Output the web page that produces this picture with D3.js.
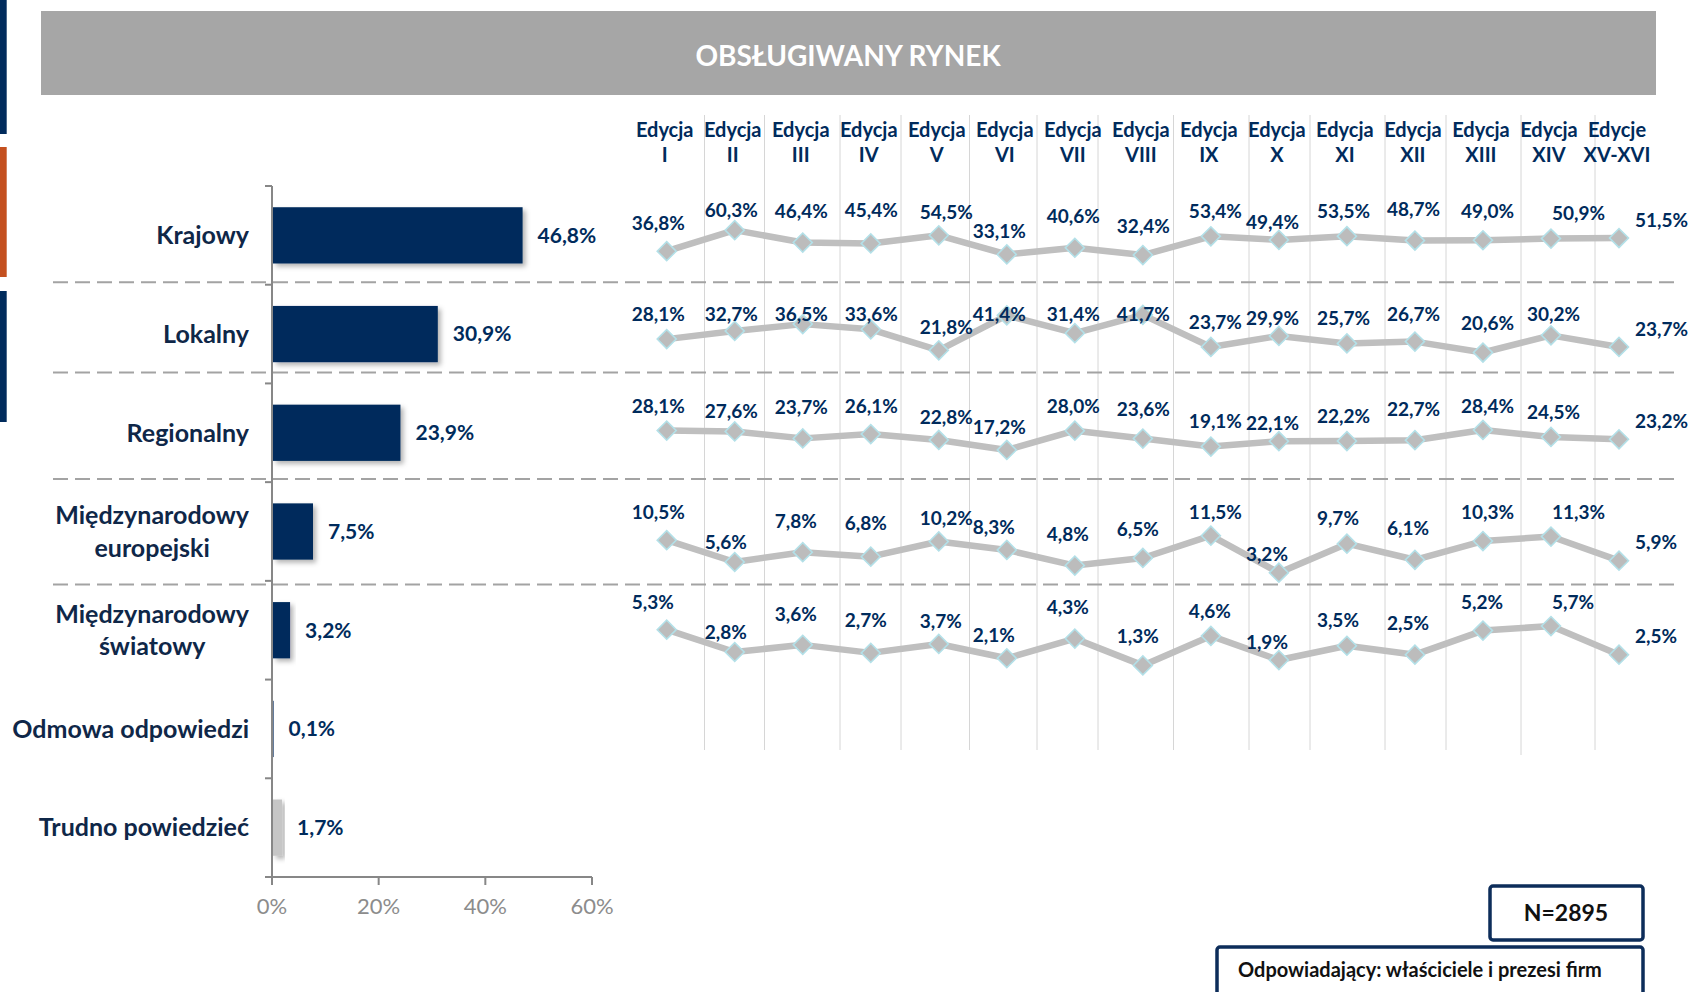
<!DOCTYPE html>
<html><head><meta charset="utf-8">
<script src="https://cdn.jsdelivr.net/npm/d3@7"></script>
<style>
html,body{margin:0;padding:0;background:#fff;}
svg{display:block;font-family:Lato,"Open Sans",sans-serif;}
</style>
</head><body>
<svg id="c" width="1702" height="992"></svg>
<script>
// ---------- DATA ----------
const title = "OBSŁUGIWANY RYNEK";
const categories = ["Krajowy","Lokalny","Regionalny","Międzynarodowy europejski","Międzynarodowy światowy","Odmowa odpowiedzi","Trudno powiedzieć"];
const categoryLines = [["Krajowy"],["Lokalny"],["Regionalny"],["Międzynarodowy","europejski"],["Międzynarodowy","światowy"],["Odmowa odpowiedzi"],["Trudno powiedzieć"]];
const currentValues = [46.8, 30.9, 23.9, 7.5, 3.2, 0.1, 1.7];
const xTickValues = [0, 20, 40, 60];

const editions = ["I","II","III","IV","V","VI","VII","VIII","IX","X","XI","XII","XIII","XIV","XV-XVI"];
const editionWord = ["Edycja","Edycja","Edycja","Edycja","Edycja","Edycja","Edycja","Edycja","Edycja","Edycja","Edycja","Edycja","Edycja","Edycja","Edycje"];

const seriesKrajowy     = [36.8, 60.3, 46.4, 45.4, 54.5, 33.1, 40.6, 32.4, 53.4, 49.4, 53.5, 48.7, 49.0, 50.9, 51.5];
const seriesLokalny     = [28.1, 32.7, 36.5, 33.6, 21.8, 41.4, 31.4, 41.7, 23.7, 29.9, 25.7, 26.7, 20.6, 30.2, 23.7];
const seriesRegionalny  = [28.1, 27.6, 23.7, 26.1, 22.8, 17.2, 28.0, 23.6, 19.1, 22.1, 22.2, 22.7, 28.4, 24.5, 23.2];
const seriesEuropejski  = [10.5, 5.6, 7.8, 6.8, 10.2, 8.3, 4.8, 6.5, 11.5, 3.2, 9.7, 6.1, 10.3, 11.3, 5.9];
const seriesSwiatowy    = [5.3, 2.8, 3.6, 2.7, 3.7, 2.1, 4.3, 1.3, 4.6, 1.9, 3.5, 2.5, 5.2, 5.7, 2.5];
const lineSeries = [seriesKrajowy, seriesLokalny, seriesRegionalny, seriesEuropejski, seriesSwiatowy];
const rowAxisMax = [70, 35, 35, 14, 7];

const sampleNote = "N=2895";
const respondentNote = "Odpowiadający: właściciele i prezesi firm";

// ---------- LAYOUT ----------
const NAVY = "#002b5c", TEXT = "#0f2748", GRAY_AX = "#878787";
const L = {
  barX0: 272, barX1: 592, barY0: 186, barY1: 877, labelRight: 249,
  lineX0: 666.7, lineX1: 1619,
  rowBase: [284, 389.3, 480.7, 587, 677], rowH: 62.5, labelClamp: 74.5,
  labelDx: [-35,-30,-28,-26,-19,-34,-28,-26,-22,-33,-30,-28,-22,-24,16],
  labelDxXIV: [1,-24,-24,1,1],
  labelDy: [-28,-20,-31,-33,-23,-23,-31,-29,-25,-18,-25,-31,-29,-25,-18],
  gridX: [704.5,764.5,840,901,969.5,1037,1098,1173.5,1249,1310,1385,1446,1521,1595],
  sepY: [282.3, 372.5, 479, 584.5]
};

const svg = d3.select("#c");
const defs = svg.append("defs");
const f = defs.append("filter").attr("id","sh").attr("x","-20%").attr("y","-20%").attr("width","150%").attr("height","160%");
f.append("feDropShadow").attr("dx",3).attr("dy",3).attr("stdDeviation",2.5).attr("flood-color","#000").attr("flood-opacity",0.3);

// left strips
svg.append("rect").attr("x",0).attr("y",0).attr("width",6.7).attr("height",134).attr("fill",NAVY);
svg.append("rect").attr("x",0).attr("y",147).attr("width",6.7).attr("height",130).attr("fill","#c4501f");
svg.append("rect").attr("x",0).attr("y",291).attr("width",6.7).attr("height",131).attr("fill",NAVY);

// banner
svg.append("rect").attr("x",41).attr("y",11).attr("width",1615).attr("height",84).attr("fill","#a6a6a6");
svg.append("text").attr("x",848).attr("y",66).attr("text-anchor","middle")
  .attr("font-size",28).attr("font-weight",700).attr("fill","#fff").text(title);

// vertical grid lines of the editions table
svg.append("g").selectAll("line").data(L.gridX).join("line")
  .attr("x1",d=>d).attr("x2",d=>d).attr("y1",115).attr("y2",(d,i)=> i===12?755:750)
  .attr("stroke","#d6d6d6").attr("stroke-width",1);

// dashed separators
svg.append("g").selectAll("line").data(L.sepY).join("line")
  .attr("x1",53).attr("x2",1674).attr("y1",d=>d).attr("y2",d=>d)
  .attr("stroke","#a3a3a3").attr("stroke-width",2).attr("stroke-dasharray","15,7");

// ---------- BAR CHART ----------
const x = d3.scaleLinear().domain([0,60]).range([L.barX0, L.barX1]);
const y = d3.scaleBand().domain(categories).range([L.barY0, L.barY1]).paddingInner(0.43).paddingOuter(0.215);
const step = y.step();

const bars = svg.append("g");
bars.selectAll("rect").data(categories).join("rect")
  .attr("x", x(0)+1).attr("y", d=>y(d))
  .attr("width", (d,i)=> Math.max(0.6, x(currentValues[i]) - x(0)))
  .attr("height", y.bandwidth())
  .attr("fill", (d,i)=> d==="Trudno powiedzieć" ? "#c6c6c6" : NAVY)
  .attr("filter","url(#sh)");

// axes
const ax = svg.append("g").attr("stroke",GRAY_AX).attr("stroke-width",2).attr("fill","none");
ax.append("line").attr("x1",x(0)).attr("x2",x(0)).attr("y1",L.barY0).attr("y2",L.barY1);
ax.append("line").attr("x1",x(0)).attr("x2",x(60)).attr("y1",L.barY1).attr("y2",L.barY1);
ax.selectAll(".yt").data(d3.range(categories.length+1)).join("line")
  .attr("x1",x(0)-7).attr("x2",x(0)).attr("y1",i=>L.barY0+i*step).attr("y2",i=>L.barY0+i*step);
ax.selectAll(".xt").data(xTickValues).join("line")
  .attr("x1",d=>x(d)).attr("x2",d=>x(d)).attr("y1",L.barY1).attr("y2",L.barY1+8);
svg.append("g").selectAll("text").data(xTickValues).join("text")
  .attr("x",d=>x(d)).attr("y",914).attr("text-anchor","middle")
  .attr("font-size",22).attr("fill","#8c8c8c").text(d=>d+"%");

// value labels
const fmt = v => v.toFixed(1).replace(".",",")+"%";
svg.append("g").selectAll("text").data(categories).join("text")
  .attr("x",(d,i)=> x(currentValues[i]) + 16).attr("y",d=>y(d)+y.bandwidth()/2)
  .attr("dy","0.35em").attr("font-size",21).attr("font-weight",700).attr("fill",NAVY)
  .text((d,i)=>fmt(currentValues[i]));

// category labels
const cl = svg.append("g");
categories.forEach((c,i)=>{
  const lines = categoryLines[i];
  const cy = y(c)+y.bandwidth()/2;
  const g = cl.append("g");
  const ts = lines.map((ln,j)=> g.append("text")
    .attr("y", cy + (j - (lines.length-1)/2)*32.5).attr("dy","0.35em")
    .attr("font-size",25).attr("font-weight",700).attr("fill",TEXT).text(ln));
  const maxW = d3.max(ts, t=>t.node().getComputedTextLength());
  ts.forEach(t=> t.attr("text-anchor","middle").attr("x", L.labelRight - maxW/2));
});

// ---------- EDITION LINES ----------
const xe = d3.scalePoint().domain(editions).range([L.lineX0, L.lineX1]);
const hdr = svg.append("g").attr("font-size",20).attr("font-weight",700).attr("fill",NAVY).attr("text-anchor","middle");
editions.forEach((e,i)=>{
  hdr.append("text").attr("x",xe(e)-2).attr("y",137).text(editionWord[i]);
  hdr.append("text").attr("x",xe(e)-2).attr("y",162).text(e);
});

const diamond = d3.symbol().type(d3.symbolSquare).size(180);
lineSeries.forEach((vals,r)=>{
  const base = L.rowBase[r];
  const yr = d3.scaleLinear().domain([0,rowAxisMax[r]]).range([base, base - L.rowH]);
  const g = svg.append("g");
  g.append("path").datum(vals)
    .attr("d", d3.line().x((d,i)=>xe(editions[i])).y(d=>yr(d)))
    .attr("fill","none").attr("stroke","#bfbfbf").attr("stroke-width",6.5).attr("stroke-linejoin","round");
  g.selectAll("path.m").data(vals).join("path").attr("class","m")
    .attr("d", diamond)
    .attr("transform",(d,i)=>`translate(${xe(editions[i])},${yr(d)}) rotate(45)`)
    .attr("fill","#bcbcbc").attr("stroke","#b3e0e8").attr("stroke-width",1.6);
  g.selectAll("text").data(vals).join("text")
    .attr("x",(d,i)=> xe(editions[i]) + (i===13 ? L.labelDxXIV[r] : L.labelDx[i]))
    .attr("y",(d,i)=> Math.max(yr(d) + L.labelDy[i], base - L.labelClamp))
    .attr("dy","0.35em").attr("font-size",19).attr("font-weight",700).attr("fill",NAVY)
    .text(d=>fmt(d));
});

// ---------- NOTES ----------
svg.append("rect").attr("x",1490).attr("y",886).attr("width",153).attr("height",54).attr("rx",3)
  .attr("fill","#fff").attr("stroke","#0d2d5a").attr("stroke-width",3.5);
svg.append("text").attr("x",1566).attr("y",921).attr("text-anchor","middle")
  .attr("font-size",23).attr("font-weight",700).attr("fill","#111").text(sampleNote);
svg.append("rect").attr("x",1217).attr("y",947).attr("width",426).attr("height",60).attr("rx",3)
  .attr("fill","#fff").attr("stroke","#0d2d5a").attr("stroke-width",3.5);
svg.append("text").attr("x",1238).attr("y",977)
  .attr("font-size",20).attr("font-weight",700).attr("fill","#111").text(respondentNote);
</script>
</body></html>
